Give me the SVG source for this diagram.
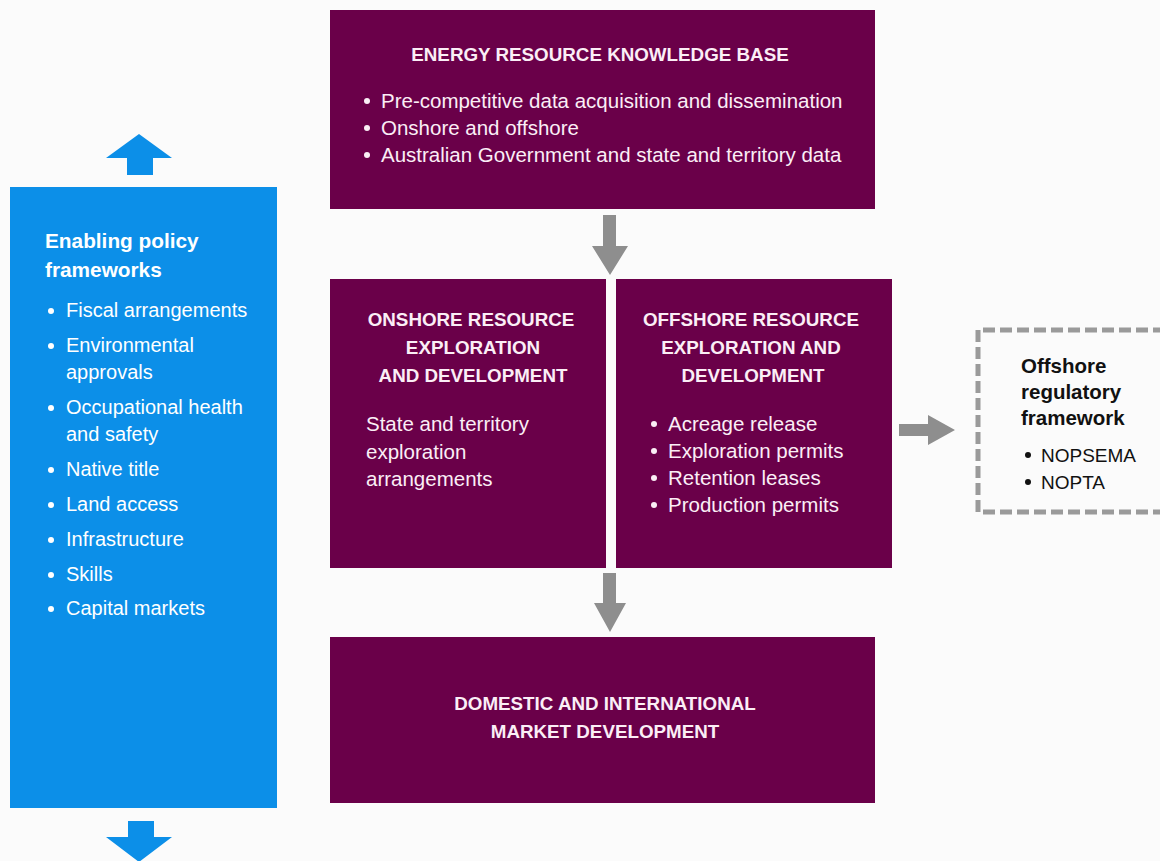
<svg xmlns="http://www.w3.org/2000/svg" width="1160" height="861" viewBox="0 0 1160 861">
  <style>
    .bg { fill: #fbfbfb; }
    .purple { fill: #6a0049; }
    .blue { fill: #0c8fe8; }
    .grey { fill: #8e8e8e; }
    .dash { fill: none; stroke: #9a9a9a; stroke-width: 5; stroke-dasharray: 12 5; }
    text { font-family: "Liberation Sans", Arial, sans-serif; }
    .hd { font-weight: bold; font-size: 18.8px; fill: #fbeef6; text-anchor: middle; }
    .tx { font-size: 20.5px; fill: #fbeef6; }
    .bh { font-weight: bold; font-size: 20.8px; fill: #ffffff; }
    .bt { font-size: 20px; fill: #ffffff; }
    .rh { font-weight: bold; font-size: 20.5px; fill: #111111; }
    .rt { font-size: 19px; fill: #111111; }
  </style>
  <defs>
    <circle id="dotW" r="3" fill="#fbeef6"/>
    <circle id="dotB" r="3" fill="#ffffff"/>
    <circle id="dotK" r="3" fill="#111111"/>
  </defs>

  <rect class="bg" x="0" y="0" width="1160" height="861"/>

  <!-- Policy frameworks panel with up/down arrows -->
  <g id="policy">
    <polygon class="blue" points="139,134 172,158 153,158 153,175 127,175 127,158 106,158"/>
    <rect class="blue" x="10" y="187" width="267" height="621"/>
    <polygon class="blue" points="128,821 154,821 154,837 172,837 139,862 106,837 128,837"/>
    <text class="bh" x="45" y="248">Enabling policy</text>
    <text class="bh" x="45" y="277">frameworks</text>
    <use href="#dotB" x="51" y="311"/><text class="bt" x="66" y="317">Fiscal arrangements</text>
    <use href="#dotB" x="51" y="346"/><text class="bt" x="66" y="352">Environmental</text>
    <text class="bt" x="66" y="379">approvals</text>
    <use href="#dotB" x="51" y="408"/><text class="bt" x="66" y="414">Occupational health</text>
    <text class="bt" x="66" y="441">and safety</text>
    <use href="#dotB" x="51" y="470"/><text class="bt" x="66" y="476">Native title</text>
    <use href="#dotB" x="51" y="505"/><text class="bt" x="66" y="511">Land access</text>
    <use href="#dotB" x="51" y="540"/><text class="bt" x="66" y="546">Infrastructure</text>
    <use href="#dotB" x="51" y="575"/><text class="bt" x="66" y="581">Skills</text>
    <use href="#dotB" x="51" y="609"/><text class="bt" x="66" y="615">Capital markets</text>
  </g>

  <!-- Knowledge base -->
  <g id="knowledge">
    <rect class="purple" x="330" y="10" width="545" height="199"/>
    <text class="hd" x="600" y="61">ENERGY RESOURCE KNOWLEDGE BASE</text>
    <use href="#dotW" x="367" y="101"/><text class="tx" x="381" y="108">Pre-competitive data acquisition and dissemination</text>
    <use href="#dotW" x="367" y="128"/><text class="tx" x="381" y="135">Onshore and offshore</text>
    <use href="#dotW" x="367" y="155"/><text class="tx" x="381" y="162">Australian Government and state and territory data</text>
  </g>

  <!-- Onshore -->
  <g id="onshore">
    <rect class="purple" x="330" y="279" width="276" height="289"/>
    <text class="hd" x="471" y="326">ONSHORE RESOURCE</text>
    <text class="hd" x="473" y="354">EXPLORATION</text>
    <text class="hd" x="473" y="382">AND DEVELOPMENT</text>
    <text class="tx" x="366" y="431">State and territory</text>
    <text class="tx" x="366" y="459">exploration</text>
    <text class="tx" x="366" y="486">arrangements</text>
  </g>

  <!-- Offshore -->
  <g id="offshore">
    <rect class="purple" x="616" y="279" width="276" height="289"/>
    <text class="hd" x="751" y="326">OFFSHORE RESOURCE</text>
    <text class="hd" x="751" y="354">EXPLORATION AND</text>
    <text class="hd" x="753" y="382">DEVELOPMENT</text>
    <use href="#dotW" x="654" y="424"/><text class="tx" x="668" y="431">Acreage release</text>
    <use href="#dotW" x="654" y="451"/><text class="tx" x="668" y="458">Exploration permits</text>
    <use href="#dotW" x="654" y="478"/><text class="tx" x="668" y="485">Retention leases</text>
    <use href="#dotW" x="654" y="505"/><text class="tx" x="668" y="512">Production permits</text>
  </g>

  <!-- Market development -->
  <g id="market">
    <rect class="purple" x="330" y="637" width="545" height="166"/>
    <text class="hd" x="605" y="710">DOMESTIC AND INTERNATIONAL</text>
    <text class="hd" x="605" y="738">MARKET DEVELOPMENT</text>
  </g>

  <!-- Offshore regulatory framework -->
  <g id="regulatory">
    <path class="dash" d="M1165,330 H978 V512 H1165"/>
    <text class="rh" x="1021" y="373">Offshore</text>
    <text class="rh" x="1021" y="399">regulatory</text>
    <text class="rh" x="1021" y="425">framework</text>
    <use href="#dotK" x="1028" y="455"/><text class="rt" x="1041" y="462">NOPSEMA</text>
    <use href="#dotK" x="1028" y="482"/><text class="rt" x="1041" y="489">NOPTA</text>
  </g>

  <!-- Connectors -->
  <g id="connectors">
    <polygon class="grey" points="603,215 616,215 616,246 628,246 610,275 592,246 603,246"/>
    <polygon class="grey" points="603,573 616,573 616,603 626,603 610,632 594,603 603,603"/>
    <polygon class="grey" points="899,424 928,424 928,415 955,430 928,445 928,436 899,436"/>
  </g>
</svg>
